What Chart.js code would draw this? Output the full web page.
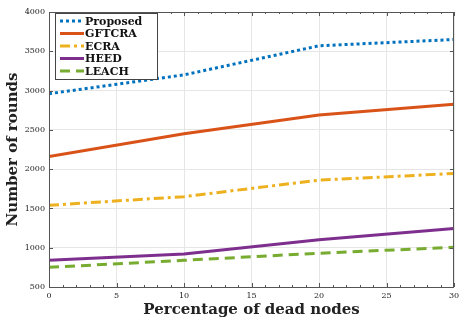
<!DOCTYPE html>
<html>
<head>
<meta charset="utf-8">
<script src="https://cdn.jsdelivr.net/npm/chart.js@4/dist/chart.umd.min.js"></script>
<style>
  html, body { margin: 0; padding: 0; background: #fff; }
  #wrap { width: 465px; height: 329px; }
</style>
</head>
<body>
<div id="wrap"><canvas id="chart" width="465" height="329"></canvas></div>
<script>
// data
const deadNodes = [0, 10, 20, 30];
const proposed = [2960, 3200, 3570, 3650];
const gftcra = [2160, 2450, 2690, 2825];
const ecra = [1540, 1650, 1860, 1945];
const heed = [840, 920, 1100, 1245];
const leach = [750, 840, 930, 1005];

const seriesNames = ['Proposed', 'GFTCRA', 'ECRA', 'HEED', 'LEACH'];
const seriesColors = ['#0072BD', '#D95319', '#EDB120', '#7E2F8E', '#77AC30'];
const seriesDash = [[3, 3], [], [10, 4, 3, 4], [], [10, 6]];
const seriesValues = [proposed, gftcra, ecra, heed, leach];

const xTicks = [0, 5, 10, 15, 20, 25, 30];
const yTicks = [500, 1000, 1500, 2000, 2500, 3000, 3500, 4000];

const serif = '"DejaVu Serif", "Liberation Serif", serif';

const datasets = seriesNames.map(function(name, i) {
    return {
        label: name,
        data: deadNodes.map(function(x, j) { return { x: x, y: seriesValues[i][j] }; }),
        borderColor: seriesColors[i],
        backgroundColor: seriesColors[i],
        borderDash: seriesDash[i],
        borderWidth: 3,
        pointRadius: 0,
        tension: 0,
        fill: false
    };
});

// box around plot, minor ticks and the legend inside the plot
const boxPlugin = {
    id: 'boxPlugin',
    afterDraw(chart) {
        const ctx = chart.ctx;
        const a = chart.chartArea;
        const xs = chart.scales.x;
        const ys = chart.scales.y;
        ctx.save();
        ctx.strokeStyle = '#555';
        ctx.lineWidth = 1;
        ctx.strokeRect(a.left + 0.5, a.top + 0.5, a.right - a.left - 1, a.bottom - a.top);
        // minor ticks
        ctx.beginPath();
        for (let v = 0; v <= 30; v += 1) {
            const px = Math.round(xs.getPixelForValue(v)) + 0.5;
            const len = v % 5 === 0 ? 4 : 2;
            ctx.moveTo(px, a.bottom); ctx.lineTo(px, a.bottom - len);
            ctx.moveTo(px, a.top); ctx.lineTo(px, a.top + len);
        }
        for (let v = 500; v <= 4000; v += 500) {
            const py = Math.round(ys.getPixelForValue(v)) + 0.5;
            ctx.moveTo(a.left, py); ctx.lineTo(a.left + 4, py);
            ctx.moveTo(a.right, py); ctx.lineTo(a.right - 4, py);
        }
        ctx.stroke();

        // legend
        const lx = a.left + 6, ly = a.top + 1, lw = 102, lh = 66;
        ctx.fillStyle = '#fff';
        ctx.fillRect(lx, ly, lw, lh);
        ctx.strokeStyle = '#444';
        ctx.strokeRect(lx + 0.5, ly + 0.5, lw, lh);
        ctx.font = 'bold 11px ' + serif;
        ctx.textBaseline = 'middle';
        chart.data.datasets.forEach(function(ds, i) {
            const y = ly + 8 + i * 12.5;
            ctx.strokeStyle = ds.borderColor;
            ctx.lineWidth = 3;
            ctx.setLineDash(ds.borderDash);
            ctx.beginPath();
            ctx.moveTo(lx + 5, y);
            ctx.lineTo(lx + 29, y);
            ctx.stroke();
            ctx.setLineDash([]);
            ctx.fillStyle = '#111';
            ctx.fillText(ds.label, lx + 30, y + 1);
        });
        ctx.restore();
    }
};

new Chart(document.getElementById('chart'), {
    type: 'line',
    data: { datasets: datasets },
    plugins: [boxPlugin],
    options: {
        responsive: false,
        animation: false,
        layout: { padding: { left: 4, right: 11, top: 12, bottom: 6 } },
        plugins: {
            legend: { display: false },
            tooltip: { enabled: false }
        },
        scales: {
            x: {
                type: 'linear',
                min: 0,
                max: 30,
                afterBuildTicks: function(axis) { axis.ticks = xTicks.map(function(v) { return { value: v }; }); },
                afterFit: function(axis) { axis.height = 36; },
                grid: { color: '#e6e6e6', drawTicks: false },
                border: { display: false },
                ticks: { padding: 4, color: '#222', font: { family: serif, size: 8 }, maxRotation: 0,
                    callback: function(v) { return String(v); } },
                title: {
                    display: true,
                    text: 'Percentage of dead nodes',
                    color: '#222',
                    padding: { top: 2 },
                    font: { family: serif, size: 15, weight: 'bold' }
                }
            },
            y: {
                min: 500,
                max: 4000,
                afterBuildTicks: function(axis) { axis.ticks = yTicks.map(function(v) { return { value: v }; }); },
                afterFit: function(axis) { axis.width = 45; },
                grid: { color: '#e6e6e6', drawTicks: false },
                border: { display: false },
                ticks: { padding: 4, color: '#222', font: { family: serif, size: 8 },
                    callback: function(v) { return String(v); } },
                title: {
                    display: true,
                    text: 'Number of rounds',
                    color: '#222',
                    padding: { top: 0, bottom: 0 },
                    font: { family: serif, size: 15, weight: 'bold' }
                }
            }
        }
    }
});
</script>
</body>
</html>
